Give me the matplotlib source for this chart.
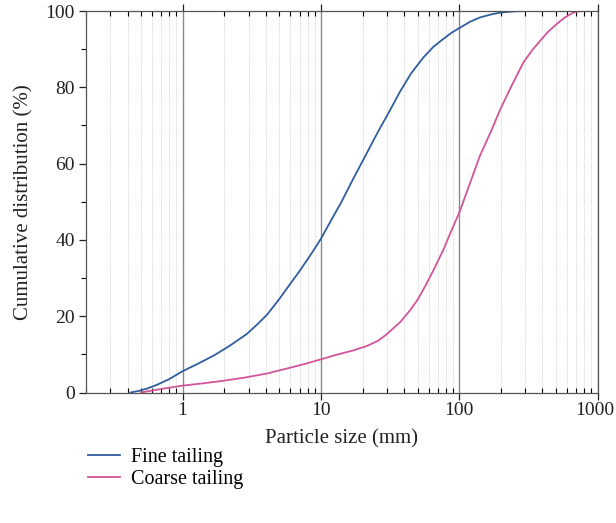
import matplotlib
matplotlib.use("Agg")
import matplotlib.pyplot as plt
import matplotlib.transforms as mtransforms
from matplotlib.ticker import LogLocator, FixedLocator, NullFormatter, MultipleLocator

# Data
fine_size = [0.42, 0.48, 0.55, 0.65, 0.8, 1.0, 1.3, 1.7, 2.2, 2.9, 3.5, 4.1, 5.0,
             6.0, 7.0, 8.5, 10.0, 12.0, 14.0, 17.0, 21.5, 26.0, 30.0, 37.5, 45.0,
             55.0, 65.0, 75.0, 88.0, 100.0, 120.0, 141.0, 170.0, 200.0, 250.0, 300.0]
fine_cum = [0.0, 0.4, 1.0, 2.0, 3.5, 5.6, 7.6, 9.8, 12.3, 15.3, 18.0, 20.5, 24.5,
            28.5, 31.8, 36.3, 40.3, 45.5, 49.8, 55.8, 62.8, 68.5, 72.5, 79.0, 83.7,
            87.8, 90.6, 92.4, 94.3, 95.5, 97.2, 98.3, 99.1, 99.6, 99.9, 100.0]

coarse_size = [0.5, 0.6, 0.75, 1.0, 1.4, 1.9, 2.8, 4.1, 5.7, 7.5, 10.0, 13.0, 17.0,
               21.5, 26.0, 30.0, 37.5, 44.0, 50.0, 57.0, 65.0, 77.0, 88.0, 101.0,
               120.0, 141.0, 170.0, 198.0, 240.0, 291.0, 335.0, 385.0, 440.0,
               507.0, 580.0, 669.0, 760.0]
coarse_cum = [0.0, 0.5, 1.1, 1.8, 2.4, 3.0, 3.9, 5.0, 6.3, 7.4, 8.7, 9.9, 11.0,
              12.2, 13.6, 15.3, 18.5, 21.5, 24.3, 28.0, 32.0, 37.5, 42.5, 47.5,
              55.0, 62.0, 68.5, 74.2, 80.5, 86.5, 89.6, 92.2, 94.6, 96.6, 98.3,
              99.6, 100.0]

series_labels = ["Fine tailing", "Coarse tailing"]
x_ticks = [1, 10, 100, 1000]
x_tick_labels = ["1", "10", "100", "1000"]
y_ticks = [0, 20, 40, 60, 80, 100]

plt.rcParams['font.family'] = ['Liberation Serif', 'DejaVu Serif']
FS = 15
TFS = 14

fig = plt.figure(figsize=(6.16, 5.23), dpi=100)
ax = fig.add_axes([86/616, 1 - 392.5/523, (597.5 - 86)/616, (392.5 - 11)/523])

blue = '#2f5d9e'
pink = '#d2549a'
l1, = ax.plot(fine_size, fine_cum, color=blue, lw=1.3, label=series_labels[0])
l2, = ax.plot(coarse_size, coarse_cum, color=pink, lw=1.3, label=series_labels[1])

ax.set_xscale('log')
ax.set_xlim(0.2, 1000)
ax.set_ylim(0, 100)

ax.xaxis.set_major_locator(FixedLocator(x_ticks))
ax.set_xticklabels(x_tick_labels)
ax.xaxis.set_minor_locator(LogLocator(base=10, subs=range(2, 10), numticks=20))
ax.xaxis.set_minor_formatter(NullFormatter())
ax.set_yticks(y_ticks)
ax.yaxis.set_minor_locator(MultipleLocator(10))

# Grid
ax.grid(True, which='major', axis='x', color='#8a8a8a', lw=1.0)
ax.grid(True, which='minor', axis='x', color='#d4d4d4', lw=0.7, ls=(0, (1, 1)))
ax.set_axisbelow(True)

ax.tick_params(axis='both', which='major', direction='out', length=5, width=0.9,
               labelsize=TFS, colors='#222222', top=False, right=False)
ax.tick_params(axis='both', which='minor', direction='out', length=3.5, width=0.8,
               top=False, right=False)
ax.tick_params(axis='x', which='both', top=True)
ax.tick_params(axis='x', which='minor', direction='in', length=3.5)
ax.tick_params(axis='x', which='major', pad=2)
ax.tick_params(axis='y', which='major', pad=3)

# shift last x tick label slightly left so it stays inside the figure
lbl = ax.get_xticklabels()[-1]
lbl.set_transform(lbl.get_transform() +
                  mtransforms.ScaledTranslation(-3/100, 0, fig.dpi_scale_trans))

for s in ax.spines.values():
    s.set_color('#555555')
    s.set_linewidth(0.9)

ax.set_xlabel('Particle size (mm)', fontsize=FS, color='#222222', labelpad=7)
ax.set_ylabel('Cumulative distribution (%)', fontsize=FS, color='#222222', labelpad=9)

fig.legend(handles=[l1, l2], loc='upper left', bbox_to_anchor=(80/616, 1 - 440/523),
           frameon=False, fontsize=14.5, handlelength=1.6, handletextpad=0.55,
           labelspacing=0.12, borderaxespad=0)

fig.savefig('out.png', dpi=100, facecolor='white')
